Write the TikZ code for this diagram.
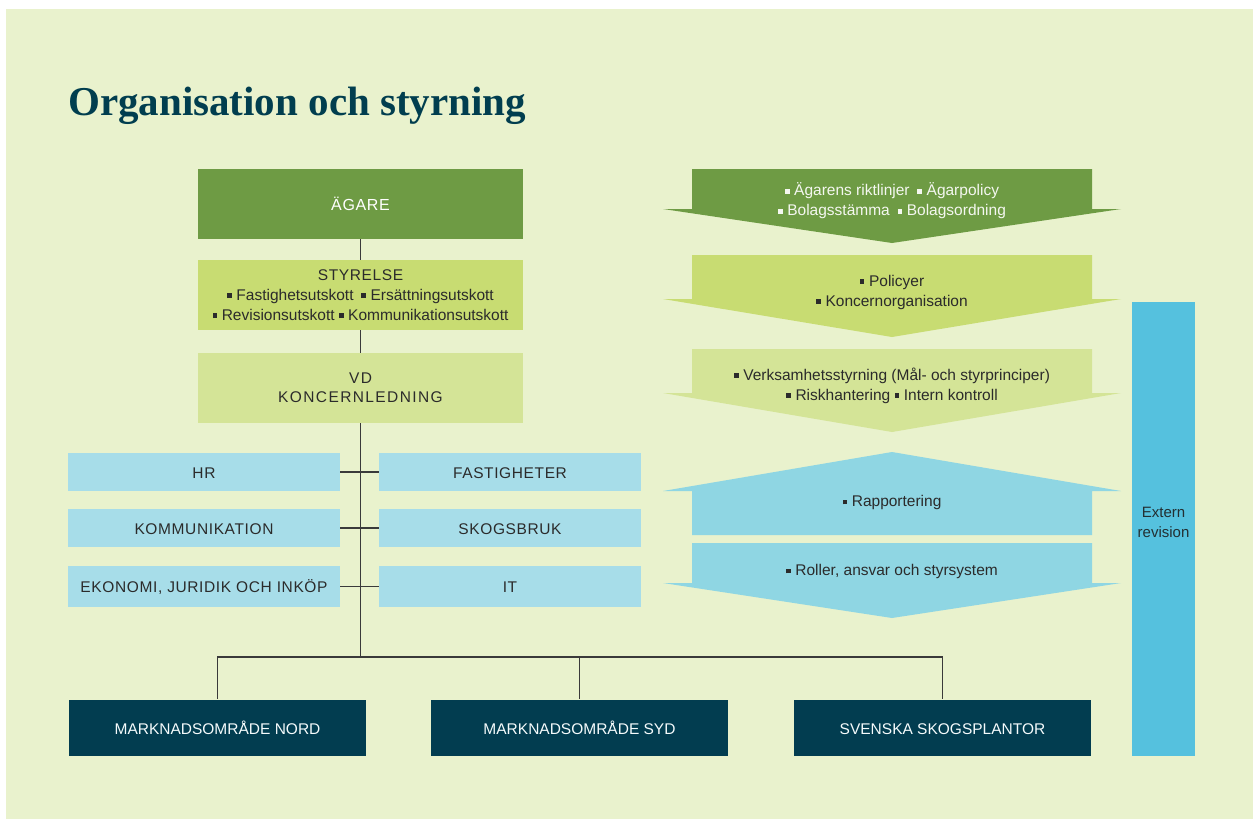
\documentclass[tikz,border=0pt]{standalone}
\usepackage{fontspec}
\setmainfont{Liberation Sans}
\newfontfamily\capsfont[LetterSpace=4]{Liberation Sans}
\newfontfamily\widecaps[LetterSpace=9]{Liberation Sans}
\newfontfamily\titlefont{Liberation Serif}
\usepackage{tikz}

\definecolor{bgcol}{HTML}{E9F2CD}
\definecolor{titlecol}{HTML}{013E4F}
\definecolor{agarecol}{HTML}{6E9B44}
\definecolor{styrcol}{HTML}{C8DC72}
\definecolor{vdcol}{HTML}{D4E497}
\definecolor{staffcol}{HTML}{A7DDE9}
\definecolor{arrowblue}{HTML}{8FD6E3}
\definecolor{externcol}{HTML}{55C1DE}
\definecolor{unitcol}{HTML}{023D50}
\definecolor{linecol}{HTML}{3A3A3A}
\definecolor{textcol}{HTML}{2B2B2B}

\newcommand{\bul}{\rule[2.3pt]{4.6pt}{4.6pt}\hspace{0.3em}}

\begin{document}
\begin{tikzpicture}[x=1pt,y=-1pt,
  orgbox/.style={inner sep=0pt,minimum width=325pt,minimum height=70pt,align=center,text=textcol,font=\fontsize{15.5}{20}\selectfont},
  staffbox/.style={fill=staffcol,inner sep=0pt,minimum height=38pt,text height=12.6pt,text depth=0pt,text=textcol,font=\capsfont\fontsize{15.5}{20}\selectfont},
  unitbox/.style={fill=unitcol,inner sep=0pt,minimum width=297pt,minimum height=56pt,text height=13.6pt,text depth=0pt,text=white!88!staffcol,font=\fontsize{15.5}{20}\selectfont},
  arrowtext/.style={inner sep=0pt,align=center,text=textcol,font=\fontsize{15.5}{20}\selectfont},
  conn/.style={draw=linecol,line width=1.2pt}]
\useasboundingbox (0,0) rectangle (1253,819);
\fill[white] (0,0) rectangle (1253,819);
\fill[bgcol] (6,9) rectangle (1253,819);

\node[anchor=base west,inner sep=0pt,text=titlecol,font=\titlefont\bfseries\fontsize{41}{48}\selectfont] (title) at (68,115) {Organisation och styrning};

% organisation chart
\node[orgbox,fill=agarecol,text=white,font=\capsfont\fontsize{16}{20}\selectfont] (agare) at (360.5,204) {ÄGARE};
\node[orgbox,fill=styrcol] (styrelse) at (360.5,295) {{\capsfont STYRELSE}\\
  \bul Fastighetsutskott\enspace\bul Ersättningsutskott\\
  \bul Revisionsutskott \bul Kommunikationsutskott};
\node[orgbox,fill=vdcol,font=\widecaps\fontsize{15.5}{19}\selectfont] (vd) at (360.5,388) {VD\\KONCERNLEDNING};

\node[staffbox,minimum width=272pt] (hr) at (204,472) {HR};
\node[staffbox,minimum width=272pt] (komm) at (204,528) {KOMMUNIKATION};
\node[staffbox,minimum width=272pt,minimum height=41pt] (ekon) at (204,586.5) {EKONOMI, JURIDIK OCH INKÖP};
\node[staffbox,minimum width=262pt] (fast) at (510,472) {FASTIGHETER};
\node[staffbox,minimum width=262pt] (skog) at (510,528) {SKOGSBRUK};
\node[staffbox,minimum width=262pt,minimum height=41pt] (it) at (510,586.5) {IT};

\node[unitbox] (nord) at (217.5,727.5) {MARKNADSOMRÅDE NORD};
\node[unitbox] (syd) at (579.5,727.5) {MARKNADSOMRÅDE SYD};
\node[unitbox] (sven) at (942.5,727.5) {SVENSKA SKOGSPLANTOR};

\coordinate (split) at (360.5,657);
\draw[conn] (agare) -- (styrelse);
\draw[conn] (styrelse) -- (vd);
\draw[conn] (vd) -- (split);
\draw[conn] (hr) -- (fast);
\draw[conn] (komm) -- (skog);
\draw[conn] (ekon) -- (it);
\draw[conn] (split) -| (nord);
\draw[conn] (split) -| (syd);
\draw[conn] (split) -| (sven);

% styrning arrows
\foreach \ya/\yb/\yc/\c in {169/209/243/agarecol,255/299/337/styrcol,349/393/432/vdcol}
  \fill[\c] (692,\ya) -- (1092,\ya) -- (1092,\yb) -- (1121,\yb) -- (892,\yc) -- (663,\yb) -- (692,\yb) -- cycle;
\fill[arrowblue] (692,535) -- (692,491) -- (663,491) -- (892,452) -- (1121,491) -- (1092,491) -- (1092,535) -- cycle;
\fill[arrowblue] (692,543) -- (1092,543) -- (1092,583) -- (1121,583) -- (892,618) -- (663,583) -- (692,583) -- cycle;

\node[arrowtext,text=white!92!agarecol] (agarpolicy) at (892,201) {\bul Ägarens riktlinjer\enspace\bul Ägarpolicy\\
  \bul Bolagsstämma\enspace\bul Bolagsordning};
\node[arrowtext] (policyer) at (892,292) {\bul Policyer\\\bul Koncernorganisation};
\node[arrowtext] (verksamhet) at (892,385.5) {\bul Verksamhetsstyrning (Mål- och styrprinciper)\\
  \bul Riskhantering \bul Intern kontroll};
\node[arrowtext,anchor=base] (rapport) at (892,506.7) {\bul Rapportering};
\node[arrowtext,anchor=base] (roller) at (892,575.7) {\bul Roller, ansvar och styrsystem};

\node[fill=externcol,inner sep=0pt,minimum width=63pt,minimum height=454pt] (extern) at (1163.5,529) {};
\node[arrowtext,text=textcol!80!unitcol,font=\fontsize{15}{20}\selectfont] (externtext) at (extern.center) [yshift=7pt] {Extern\\revision};
\end{tikzpicture}
\end{document}
